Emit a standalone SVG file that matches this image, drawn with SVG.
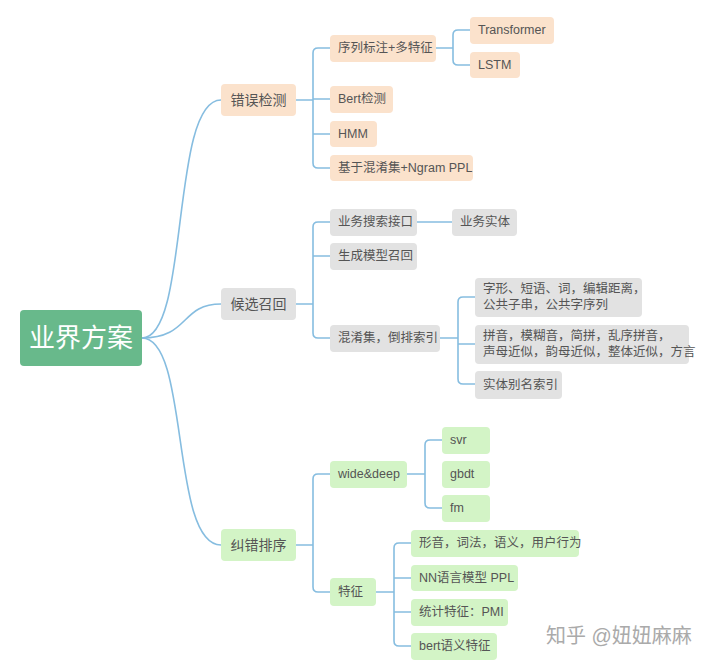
<svg xmlns="http://www.w3.org/2000/svg" width="720" height="668" viewBox="0 0 720 668">
<style>
text{font-family:"Liberation Sans","Noto Sans CJK SC",sans-serif;fill:#555;font-size:12.5px;dominant-baseline:central}
.c{fill:none;stroke:#86bde0;stroke-width:1.6}
.o rect{fill:#fbe2cc}
.g rect{fill:#e2e2e2}
.n rect{fill:#d3f4c6}
rect{rx:4;ry:4}
.b text{font-size:14px}
</style>
<rect width="720" height="668" fill="#fff"/>
<g id="connectors" class="c">
<path d="M142 338 C190 338 170 100 221 100"/>
<path d="M142 338 C190 338 180 304 221 304"/>
<path d="M142 338 C190 338 170 545 221 545"/>
<path d="M296 100 H313 M330 48 H318 Q313 48 313 53 V163 Q313 168 318 168 H330 M313 99 H330 M313 134 H330"/>
<path d="M436 48 H453 M470 30 H458 Q453 30 453 35 V60 Q453 65 458 65 H470"/>
<path d="M296 304 H313 M330 222 H318 Q313 222 313 227 V333 Q313 338 318 338 H330 M313 256 H330"/>
<path d="M417 222 H452"/>
<path d="M440 338 H458 M475 297 H463 Q458 297 458 302 V379 Q458 384 463 384 H475 M458 344 H475"/>
<path d="M296 545 H313 M330 474 H318 Q313 474 313 479 V587 Q313 592 318 592 H330"/>
<path d="M407 474 H425 M442 440 H430 Q425 440 425 445 V503 Q425 508 430 508 H442"/>
<path d="M376 592 H394 M411 543 H399 Q394 543 394 548 V641 Q394 646 399 646 H411 M394 578 H411 M394 612 H411"/>
</g>
<g id="root"><rect x="20" y="310" width="122" height="56" fill="#68b98b"/><text x="81" y="338" text-anchor="middle" style="fill:#fff;font-size:26px">业界方案</text></g>
<g id="b1" class="o b"><rect x="221" y="84" width="75" height="32"/><text x="258.5" y="100" text-anchor="middle">错误检测</text></g>
<g id="b2" class="g b"><rect x="221" y="288" width="75" height="32"/><text x="258.5" y="304" text-anchor="middle">候选召回</text></g>
<g id="b3" class="n b"><rect x="221" y="529" width="75" height="32"/><text x="258.5" y="545" text-anchor="middle">纠错排序</text></g>
<g id="n1" class="o"><rect x="330" y="35" width="106" height="27"/><text x="338" y="48">序列标注+多特征</text></g>
<g id="n2" class="o"><rect x="330" y="86" width="63" height="27"/><text x="338" y="99">Bert检测</text></g>
<g id="n3" class="o"><rect x="330" y="121" width="47" height="26"/><text x="338" y="134">HMM</text></g>
<g id="n4" class="o"><rect x="330" y="155" width="143" height="26"/><text x="338" y="168">基于混淆集+Ngram PPL</text></g>
<g id="n5" class="o"><rect x="470" y="17" width="84" height="27"/><text x="478" y="30">Transformer</text></g>
<g id="n6" class="o"><rect x="470" y="52" width="50" height="26"/><text x="478" y="65">LSTM</text></g>
<g id="n7" class="g"><rect x="330" y="209" width="87" height="27"/><text x="338" y="222">业务搜索接口</text></g>
<g id="n8" class="g"><rect x="452" y="209" width="65" height="27"/><text x="460" y="222">业务实体</text></g>
<g id="n9" class="g"><rect x="330" y="243" width="87" height="27"/><text x="338" y="256">生成模型召回</text></g>
<g id="n10" class="g"><rect x="330" y="325" width="110" height="27"/><text x="338" y="338">混淆集，倒排索引</text></g>
<g id="n11" class="g"><rect x="475" y="278" width="167" height="39"/><text x="483" y="289">字形、短语、词，编辑距离，</text><text x="483" y="305">公共子串，公共字序列</text></g>
<g id="n12" class="g"><rect x="475" y="325" width="214" height="39"/><text x="483" y="336">拼音，模糊音，简拼，乱序拼音，</text><text x="483" y="352">声母近似，韵母近似，整体近似，方言</text></g>
<g id="n13" class="g"><rect x="475" y="371" width="87" height="28"/><text x="483" y="385">实体别名索引</text></g>
<g id="n14" class="n"><rect x="330" y="461" width="77" height="27"/><text x="338" y="474">wide&amp;deep</text></g>
<g id="n15" class="n"><rect x="330" y="578" width="46" height="28"/><text x="338" y="592">特征</text></g>
<g id="n16" class="n"><rect x="442" y="427" width="48" height="27"/><text x="450" y="440">svr</text></g>
<g id="n17" class="n"><rect x="442" y="461" width="48" height="27"/><text x="450" y="474">gbdt</text></g>
<g id="n18" class="n"><rect x="442" y="495" width="48" height="27"/><text x="450" y="508">fm</text></g>
<g id="n19" class="n"><rect x="411" y="530" width="168" height="27"/><text x="419" y="543">形音，词法，语义，用户行为</text></g>
<g id="n20" class="n"><rect x="411" y="565" width="107" height="26"/><text x="419" y="578">NN语言模型 PPL</text></g>
<g id="n21" class="n"><rect x="411" y="599" width="97" height="27"/><text x="419" y="612">统计特征：PMI</text></g>
<g id="n22" class="n"><rect x="411" y="633" width="86" height="27"/><text x="419" y="646">bert语义特征</text></g>
<text x="546" y="636" style="fill:#aaa;font-size:20px">知乎 @妞妞麻麻</text>
</svg>
